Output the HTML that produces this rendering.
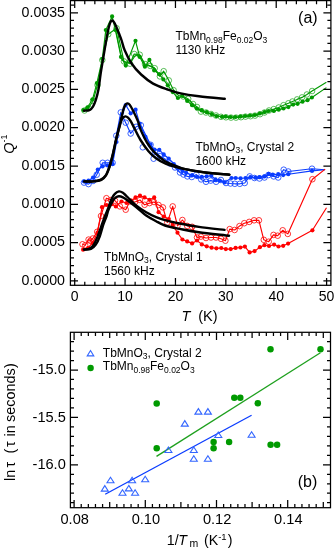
<!DOCTYPE html><html><head><meta charset="utf-8"><style>html,body{margin:0;padding:0;background:#fff;}svg{display:block;will-change:transform}</style></head><body><svg width="334" height="549" viewBox="0 0 334 549"><path d="M115.5 29.0L122.0 60.0L126.5 63.0L131.0 62.0L135.5 55.0L140.0 56.0L145.0 65.0L149.5 66.0L154.5 68.0L159.0 75.0" fill="none" stroke="#009a00" stroke-width="1.1"/><path d="M84.5 110.5L88.5 108.0L93.0 101.0L97.5 85.0L102.3 60.0L108.2 34.3L116.6 28.2L124.0 61.4L130.0 63.7L134.2 54.0L139.7 54.7L145.0 64.0L150.2 65.9L154.7 68.2L159.9 76.4L163.7 71.2L168.8 80.4L173.6 90.2L178.5 95.5L183.3 96.5L188.2 98.9L193.0 104.0L197.0 107.0L200.9 111.6L206.0 112.5L211.0 114.0L216.0 115.5L221.0 116.8L226.0 117.3L231.0 117.6L236.0 117.6L241.0 117.2L245.5 116.6L250.5 116.2L255.0 115.6L260.0 114.2L264.5 112.5L269.0 110.5L273.8 109.1L278.7 107.5L283.5 105.2L288.4 103.3L292.5 101.5L297.1 99.4L302.0 97.4L306.9 94.5L312.1 91.0L326.4 82.3" fill="none" stroke="#009a00" stroke-width="1.15" stroke-linejoin="round"/><g fill="none" stroke="#009a00" stroke-width="0.65"><circle cx="84.5" cy="110.5" r="2.8"/><circle cx="88.5" cy="108.0" r="2.8"/><circle cx="93.0" cy="101.0" r="2.8"/><circle cx="97.5" cy="85.0" r="2.8"/><circle cx="102.3" cy="60.0" r="2.8"/><circle cx="108.2" cy="34.3" r="2.8"/><circle cx="116.6" cy="28.2" r="2.8"/><circle cx="124.0" cy="61.4" r="2.8"/><circle cx="130.0" cy="63.7" r="2.8"/><circle cx="134.2" cy="54.0" r="2.8"/><circle cx="139.7" cy="54.7" r="2.8"/><circle cx="145.0" cy="64.0" r="2.8"/><circle cx="150.2" cy="65.9" r="2.8"/><circle cx="154.7" cy="68.2" r="2.8"/><circle cx="159.9" cy="76.4" r="2.8"/><circle cx="163.7" cy="71.2" r="2.8"/><circle cx="168.8" cy="80.4" r="2.8"/><circle cx="173.6" cy="90.2" r="2.8"/><circle cx="178.5" cy="95.5" r="2.8"/><circle cx="183.3" cy="96.5" r="2.8"/><circle cx="188.2" cy="98.9" r="2.8"/><circle cx="193.0" cy="104.0" r="2.8"/><circle cx="197.0" cy="107.0" r="2.8"/><circle cx="200.9" cy="111.6" r="2.8"/><circle cx="206.0" cy="112.5" r="2.8"/><circle cx="211.0" cy="114.0" r="2.8"/><circle cx="216.0" cy="115.5" r="2.8"/><circle cx="221.0" cy="116.8" r="2.8"/><circle cx="226.0" cy="117.3" r="2.8"/><circle cx="231.0" cy="117.6" r="2.8"/><circle cx="236.0" cy="117.6" r="2.8"/><circle cx="241.0" cy="117.2" r="2.8"/><circle cx="245.5" cy="116.6" r="2.8"/><circle cx="250.5" cy="116.2" r="2.8"/><circle cx="255.0" cy="115.6" r="2.8"/><circle cx="260.0" cy="114.2" r="2.8"/><circle cx="264.5" cy="112.5" r="2.8"/><circle cx="269.0" cy="110.5" r="2.8"/><circle cx="273.8" cy="109.1" r="2.8"/><circle cx="278.7" cy="107.5" r="2.8"/><circle cx="283.5" cy="105.2" r="2.8"/><circle cx="288.4" cy="103.3" r="2.8"/><circle cx="292.5" cy="101.5" r="2.8"/><circle cx="297.1" cy="99.4" r="2.8"/><circle cx="302.0" cy="97.4" r="2.8"/><circle cx="306.9" cy="94.5" r="2.8"/><circle cx="312.1" cy="91.0" r="2.8"/></g><path d="M83.4 110.1L87.5 107.5L92.5 99.3L96.9 83.1L102.3 58.9L105.8 30.1L112.1 16.4L115.4 30.1L121.0 56.9L125.8 65.6L135.5 40.8L139.7 56.9L144.9 66.7L149.4 59.9L154.2 70.4L159.2 74.2L163.4 79.4L167.8 85.3L172.7 92.1L177.9 98.0L182.4 96.0L187.2 100.9L192.1 105.2L197.0 108.7L201.8 110.2L206.7 112.2L211.6 114.1L216.4 116.1L221.9 116.8L225.7 116.6L230.6 117.0L235.4 117.0L240.3 116.6L245.2 116.0L250.0 115.6L254.9 115.0L259.8 113.5L264.6 112.1L268.5 111.0L273.8 111.0L278.7 109.7L283.5 108.5L288.4 107.1L293.2 104.6L297.6 103.8L302.5 101.7L307.5 100.2L311.9 97.5L326.4 87.6" fill="none" stroke="#009a00" stroke-width="1.15" stroke-linejoin="round"/><g fill="#009a00"><circle cx="83.4" cy="110.1" r="2.1"/><circle cx="87.5" cy="107.5" r="2.1"/><circle cx="92.5" cy="99.3" r="2.1"/><circle cx="96.9" cy="83.1" r="2.1"/><circle cx="102.3" cy="58.9" r="2.1"/><circle cx="105.8" cy="30.1" r="2.1"/><circle cx="112.1" cy="16.4" r="2.1"/><circle cx="115.4" cy="30.1" r="2.1"/><circle cx="121.0" cy="56.9" r="2.1"/><circle cx="125.8" cy="65.6" r="2.1"/><circle cx="135.5" cy="40.8" r="2.1"/><circle cx="139.7" cy="56.9" r="2.1"/><circle cx="144.9" cy="66.7" r="2.1"/><circle cx="149.4" cy="59.9" r="2.1"/><circle cx="154.2" cy="70.4" r="2.1"/><circle cx="159.2" cy="74.2" r="2.1"/><circle cx="163.4" cy="79.4" r="2.1"/><circle cx="167.8" cy="85.3" r="2.1"/><circle cx="172.7" cy="92.1" r="2.1"/><circle cx="177.9" cy="98.0" r="2.1"/><circle cx="182.4" cy="96.0" r="2.1"/><circle cx="187.2" cy="100.9" r="2.1"/><circle cx="192.1" cy="105.2" r="2.1"/><circle cx="197.0" cy="108.7" r="2.1"/><circle cx="201.8" cy="110.2" r="2.1"/><circle cx="206.7" cy="112.2" r="2.1"/><circle cx="211.6" cy="114.1" r="2.1"/><circle cx="216.4" cy="116.1" r="2.1"/><circle cx="221.9" cy="116.8" r="2.1"/><circle cx="225.7" cy="116.6" r="2.1"/><circle cx="230.6" cy="117.0" r="2.1"/><circle cx="235.4" cy="117.0" r="2.1"/><circle cx="240.3" cy="116.6" r="2.1"/><circle cx="245.2" cy="116.0" r="2.1"/><circle cx="250.0" cy="115.6" r="2.1"/><circle cx="254.9" cy="115.0" r="2.1"/><circle cx="259.8" cy="113.5" r="2.1"/><circle cx="264.6" cy="112.1" r="2.1"/><circle cx="268.5" cy="111.0" r="2.1"/><circle cx="273.8" cy="111.0" r="2.1"/><circle cx="278.7" cy="109.7" r="2.1"/><circle cx="283.5" cy="108.5" r="2.1"/><circle cx="288.4" cy="107.1" r="2.1"/><circle cx="293.2" cy="104.6" r="2.1"/><circle cx="297.6" cy="103.8" r="2.1"/><circle cx="302.5" cy="101.7" r="2.1"/><circle cx="307.5" cy="100.2" r="2.1"/><circle cx="311.9" cy="97.5" r="2.1"/></g><path d="M84.0 182.6L88.5 184.1L93.0 181.0L96.7 174.7L102.7 162.8L107.6 162.8L112.6 162.8L116.3 135.7L120.8 112.4L125.7 122.7L130.7 133.5L136.1 126.8L140.8 125.2L150.6 144.8L155.0 152.0L160.0 156.0L165.0 159.0L170.0 163.5L175.0 167.5L180.0 172.5L183.5 174.5L187.4 176.4L191.8 177.0L196.4 174.6L201.2 179.4L206.0 181.8L210.7 180.6L216.1 181.8L220.9 180.0L226.0 183.0L230.5 183.5L234.8 183.8L239.8 183.8L244.7 183.0L249.7 176.4L254.5 178.0L259.5 178.5L264.5 177.5L268.5 175.0L273.7 176.4L278.2 177.5L283.7 169.7L288.3 171.5L312.0 168.7L324.8 169.7" fill="none" stroke="#0a3cff" stroke-width="1.15" stroke-linejoin="round"/><g fill="none" stroke="#0a3cff" stroke-width="0.8"><circle cx="84.0" cy="182.6" r="2.8"/><circle cx="88.5" cy="184.1" r="2.8"/><circle cx="93.0" cy="181.0" r="2.8"/><circle cx="96.7" cy="174.7" r="2.8"/><circle cx="102.7" cy="162.8" r="2.8"/><circle cx="107.6" cy="162.8" r="2.8"/><circle cx="112.6" cy="162.8" r="2.8"/><circle cx="116.3" cy="135.7" r="2.8"/><circle cx="120.8" cy="112.4" r="2.8"/><circle cx="125.7" cy="122.7" r="2.8"/><circle cx="130.7" cy="133.5" r="2.8"/><circle cx="136.1" cy="126.8" r="2.8"/><circle cx="140.8" cy="125.2" r="2.8"/><circle cx="150.6" cy="144.8" r="2.8"/><circle cx="155.0" cy="152.0" r="2.8"/><circle cx="160.0" cy="156.0" r="2.8"/><circle cx="165.0" cy="159.0" r="2.8"/><circle cx="170.0" cy="163.5" r="2.8"/><circle cx="175.0" cy="167.5" r="2.8"/><circle cx="180.0" cy="172.5" r="2.8"/><circle cx="183.5" cy="174.5" r="2.8"/><circle cx="187.4" cy="176.4" r="2.8"/><circle cx="191.8" cy="177.0" r="2.8"/><circle cx="196.4" cy="174.6" r="2.8"/><circle cx="201.2" cy="179.4" r="2.8"/><circle cx="206.0" cy="181.8" r="2.8"/><circle cx="210.7" cy="180.6" r="2.8"/><circle cx="216.1" cy="181.8" r="2.8"/><circle cx="220.9" cy="180.0" r="2.8"/><circle cx="226.0" cy="183.0" r="2.8"/><circle cx="230.5" cy="183.5" r="2.8"/><circle cx="234.8" cy="183.8" r="2.8"/><circle cx="239.8" cy="183.8" r="2.8"/><circle cx="244.7" cy="183.0" r="2.8"/><circle cx="249.7" cy="176.4" r="2.8"/><circle cx="254.5" cy="178.0" r="2.8"/><circle cx="259.5" cy="178.5" r="2.8"/><circle cx="264.5" cy="177.5" r="2.8"/><circle cx="268.5" cy="175.0" r="2.8"/><circle cx="273.7" cy="176.4" r="2.8"/><circle cx="278.2" cy="177.5" r="2.8"/><circle cx="283.7" cy="169.7" r="2.8"/><circle cx="288.3" cy="171.5" r="2.8"/><circle cx="312.0" cy="168.7" r="2.8"/></g><path d="M84.0 181.4L88.5 180.5L93.0 177.7L97.8 169.5L102.5 166.4L107.5 165.5L112.6 164.1L116.5 142.0L121.0 119.0L125.7 105.0L130.7 113.3L135.6 109.7L139.6 123.5L145.5 136.9L150.5 144.5L154.5 149.6L159.3 149.9L163.7 154.4L168.7 158.5L173.8 164.0L178.7 168.0L182.5 171.0L186.2 172.8L192.2 175.2L197.0 177.0L201.8 176.8L206.6 176.4L211.3 175.8L215.5 179.4L219.7 180.6L224.5 182.5L231.5 178.0L235.7 178.0L240.6 178.3L245.5 178.0L250.5 177.2L255.4 177.7L259.5 177.2L264.5 176.4L268.6 173.9L272.7 174.7L278.2 174.2L283.2 175.1L288.3 174.2L312.0 170.9L324.8 169.7" fill="none" stroke="#0a3cff" stroke-width="1.15" stroke-linejoin="round"/><g fill="#0a3cff"><circle cx="84.0" cy="181.4" r="2.1"/><circle cx="88.5" cy="180.5" r="2.1"/><circle cx="93.0" cy="177.7" r="2.1"/><circle cx="97.8" cy="169.5" r="2.1"/><circle cx="102.5" cy="166.4" r="2.1"/><circle cx="107.5" cy="165.5" r="2.1"/><circle cx="112.6" cy="164.1" r="2.1"/><circle cx="116.5" cy="142.0" r="2.1"/><circle cx="121.0" cy="119.0" r="2.1"/><circle cx="125.7" cy="105.0" r="2.1"/><circle cx="130.7" cy="113.3" r="2.1"/><circle cx="135.6" cy="109.7" r="2.1"/><circle cx="139.6" cy="123.5" r="2.1"/><circle cx="145.5" cy="136.9" r="2.1"/><circle cx="150.5" cy="144.5" r="2.1"/><circle cx="154.5" cy="149.6" r="2.1"/><circle cx="159.3" cy="149.9" r="2.1"/><circle cx="163.7" cy="154.4" r="2.1"/><circle cx="168.7" cy="158.5" r="2.1"/><circle cx="173.8" cy="164.0" r="2.1"/><circle cx="178.7" cy="168.0" r="2.1"/><circle cx="182.5" cy="171.0" r="2.1"/><circle cx="186.2" cy="172.8" r="2.1"/><circle cx="192.2" cy="175.2" r="2.1"/><circle cx="197.0" cy="177.0" r="2.1"/><circle cx="201.8" cy="176.8" r="2.1"/><circle cx="206.6" cy="176.4" r="2.1"/><circle cx="211.3" cy="175.8" r="2.1"/><circle cx="215.5" cy="179.4" r="2.1"/><circle cx="219.7" cy="180.6" r="2.1"/><circle cx="224.5" cy="182.5" r="2.1"/><circle cx="231.5" cy="178.0" r="2.1"/><circle cx="235.7" cy="178.0" r="2.1"/><circle cx="240.6" cy="178.3" r="2.1"/><circle cx="245.5" cy="178.0" r="2.1"/><circle cx="250.5" cy="177.2" r="2.1"/><circle cx="255.4" cy="177.7" r="2.1"/><circle cx="259.5" cy="177.2" r="2.1"/><circle cx="264.5" cy="176.4" r="2.1"/><circle cx="268.6" cy="173.9" r="2.1"/><circle cx="272.7" cy="174.7" r="2.1"/><circle cx="278.2" cy="174.2" r="2.1"/><circle cx="283.2" cy="175.1" r="2.1"/><circle cx="288.3" cy="174.2" r="2.1"/><circle cx="312.0" cy="170.9" r="2.1"/></g><g fill="none" stroke="#0a3cff" stroke-width="0.8"><circle cx="142.8" cy="147.3" r="2.8"/><circle cx="153.6" cy="158.7" r="2.8"/></g><path d="M82.5 244.3L85.2 245.3L88.6 239.6L90.4 240.8L92.8 238.5L97.2 231.8L101.0 216.0L106.4 198.2L111.0 200.0L115.0 200.7L119.9 206.4L125.7 209.7L129.8 201.5L135.0 202.0L140.0 200.0L144.6 204.8L149.5 203.1L154.0 202.0L158.5 205.0L162.9 207.4L167.3 222.5L172.7 206.4L177.5 225.9L182.4 220.0L187.2 225.9L192.1 226.8L197.0 237.5L200.9 236.6L206.0 238.0L211.0 237.5L216.0 237.5L221.0 238.8L225.4 240.7L229.7 229.1L234.6 230.0L239.5 226.1L244.3 223.2L249.2 221.9L254.1 220.3L258.9 220.3L263.8 239.8L268.7 241.7L273.5 234.9L277.7 235.7L282.7 230.3L287.8 233.9L312.4 179.2L325.2 169.1" fill="none" stroke="#ff0000" stroke-width="1.15" stroke-linejoin="round"/><g fill="none" stroke="#ff0000" stroke-width="0.8"><circle cx="82.5" cy="244.3" r="2.8"/><circle cx="85.2" cy="245.3" r="2.8"/><circle cx="88.6" cy="239.6" r="2.8"/><circle cx="90.4" cy="240.8" r="2.8"/><circle cx="92.8" cy="238.5" r="2.8"/><circle cx="97.2" cy="231.8" r="2.8"/><circle cx="101.0" cy="216.0" r="2.8"/><circle cx="106.4" cy="198.2" r="2.8"/><circle cx="111.0" cy="200.0" r="2.8"/><circle cx="115.0" cy="200.7" r="2.8"/><circle cx="119.9" cy="206.4" r="2.8"/><circle cx="125.7" cy="209.7" r="2.8"/><circle cx="129.8" cy="201.5" r="2.8"/><circle cx="135.0" cy="202.0" r="2.8"/><circle cx="140.0" cy="200.0" r="2.8"/><circle cx="144.6" cy="204.8" r="2.8"/><circle cx="149.5" cy="203.1" r="2.8"/><circle cx="154.0" cy="202.0" r="2.8"/><circle cx="158.5" cy="205.0" r="2.8"/><circle cx="162.9" cy="207.4" r="2.8"/><circle cx="167.3" cy="222.5" r="2.8"/><circle cx="172.7" cy="206.4" r="2.8"/><circle cx="177.5" cy="225.9" r="2.8"/><circle cx="182.4" cy="220.0" r="2.8"/><circle cx="187.2" cy="225.9" r="2.8"/><circle cx="192.1" cy="226.8" r="2.8"/><circle cx="197.0" cy="237.5" r="2.8"/><circle cx="200.9" cy="236.6" r="2.8"/><circle cx="206.0" cy="238.0" r="2.8"/><circle cx="211.0" cy="237.5" r="2.8"/><circle cx="216.0" cy="237.5" r="2.8"/><circle cx="221.0" cy="238.8" r="2.8"/><circle cx="225.4" cy="240.7" r="2.8"/><circle cx="229.7" cy="229.1" r="2.8"/><circle cx="234.6" cy="230.0" r="2.8"/><circle cx="239.5" cy="226.1" r="2.8"/><circle cx="244.3" cy="223.2" r="2.8"/><circle cx="249.2" cy="221.9" r="2.8"/><circle cx="254.1" cy="220.3" r="2.8"/><circle cx="258.9" cy="220.3" r="2.8"/><circle cx="263.8" cy="239.8" r="2.8"/><circle cx="268.7" cy="241.7" r="2.8"/><circle cx="273.5" cy="234.9" r="2.8"/><circle cx="277.7" cy="235.7" r="2.8"/><circle cx="282.7" cy="230.3" r="2.8"/><circle cx="287.8" cy="233.9" r="2.8"/><circle cx="312.4" cy="179.2" r="2.8"/></g><path d="M83.1 249.7L88.0 248.0L92.5 243.0L97.5 232.7L102.0 207.2L106.5 205.0L111.7 204.2L115.8 206.4L121.5 201.5L126.5 203.0L131.4 200.7L135.5 197.4L140.0 195.7L144.6 197.4L149.5 199.8L154.2 197.4L158.6 212.2L163.7 216.5L168.8 219.1L172.7 224.9L177.5 232.7L182.4 239.5L187.2 241.4L192.1 243.4L197.0 240.5L201.8 244.4L206.7 246.3L211.6 247.7L216.4 248.3L221.3 248.0L225.8 249.1L230.7 249.1L235.6 247.9L240.4 247.5L244.9 246.6L249.6 252.4L254.6 251.1L259.9 247.2L264.4 245.2L269.0 246.0L274.1 244.6L278.5 246.5L283.2 245.8L288.1 243.6L312.4 230.3L326.5 207.8" fill="none" stroke="#ff0000" stroke-width="1.15" stroke-linejoin="round"/><g fill="#ff0000"><circle cx="83.1" cy="249.7" r="2.1"/><circle cx="88.0" cy="248.0" r="2.1"/><circle cx="92.5" cy="243.0" r="2.1"/><circle cx="97.5" cy="232.7" r="2.1"/><circle cx="102.0" cy="207.2" r="2.1"/><circle cx="106.5" cy="205.0" r="2.1"/><circle cx="111.7" cy="204.2" r="2.1"/><circle cx="115.8" cy="206.4" r="2.1"/><circle cx="121.5" cy="201.5" r="2.1"/><circle cx="126.5" cy="203.0" r="2.1"/><circle cx="131.4" cy="200.7" r="2.1"/><circle cx="135.5" cy="197.4" r="2.1"/><circle cx="140.0" cy="195.7" r="2.1"/><circle cx="144.6" cy="197.4" r="2.1"/><circle cx="149.5" cy="199.8" r="2.1"/><circle cx="154.2" cy="197.4" r="2.1"/><circle cx="158.6" cy="212.2" r="2.1"/><circle cx="163.7" cy="216.5" r="2.1"/><circle cx="168.8" cy="219.1" r="2.1"/><circle cx="172.7" cy="224.9" r="2.1"/><circle cx="177.5" cy="232.7" r="2.1"/><circle cx="182.4" cy="239.5" r="2.1"/><circle cx="187.2" cy="241.4" r="2.1"/><circle cx="192.1" cy="243.4" r="2.1"/><circle cx="197.0" cy="240.5" r="2.1"/><circle cx="201.8" cy="244.4" r="2.1"/><circle cx="206.7" cy="246.3" r="2.1"/><circle cx="211.6" cy="247.7" r="2.1"/><circle cx="216.4" cy="248.3" r="2.1"/><circle cx="221.3" cy="248.0" r="2.1"/><circle cx="225.8" cy="249.1" r="2.1"/><circle cx="230.7" cy="249.1" r="2.1"/><circle cx="235.6" cy="247.9" r="2.1"/><circle cx="240.4" cy="247.5" r="2.1"/><circle cx="244.9" cy="246.6" r="2.1"/><circle cx="249.6" cy="252.4" r="2.1"/><circle cx="254.6" cy="251.1" r="2.1"/><circle cx="259.9" cy="247.2" r="2.1"/><circle cx="264.4" cy="245.2" r="2.1"/><circle cx="269.0" cy="246.0" r="2.1"/><circle cx="274.1" cy="244.6" r="2.1"/><circle cx="278.5" cy="246.5" r="2.1"/><circle cx="283.2" cy="245.8" r="2.1"/><circle cx="288.1" cy="243.6" r="2.1"/><circle cx="312.4" cy="230.3" r="2.1"/></g><path d="M84.0 110.7C84.9 110.6 87.9 110.8 89.4 110.1C90.9 109.4 91.9 108.4 93.0 106.6C94.1 104.8 95.1 102.2 96.0 99.4C96.9 96.6 97.6 94.0 98.4 89.8C99.2 85.6 99.8 79.5 100.6 74.0C101.4 68.5 102.5 62.7 103.4 57.0C104.4 51.3 105.5 44.2 106.3 40.0C107.0 35.8 107.4 34.0 107.9 31.5C108.4 29.1 108.8 26.9 109.3 25.3C109.8 23.7 110.1 22.7 110.6 21.9C111.0 21.1 111.5 20.6 112.0 20.5C112.5 20.4 112.9 20.7 113.5 21.5C114.1 22.3 114.7 23.2 115.6 25.2C116.5 27.2 118.0 30.9 119.0 33.5C120.0 36.1 120.9 38.2 121.8 41.0C122.7 43.8 123.0 46.2 124.6 50.0C126.2 53.8 128.8 59.4 131.6 63.5C134.3 67.6 137.5 71.2 141.1 74.5C144.7 77.8 148.7 81.1 153.1 83.6C157.5 86.1 163.1 87.9 167.5 89.5C171.9 91.1 174.3 92.0 179.5 93.1C184.7 94.2 191.3 95.3 198.9 96.3C206.5 97.2 220.5 98.4 224.8 98.8" fill="none" stroke="#000" stroke-width="2.4" stroke-linecap="round" stroke-linejoin="round"/><path d="M84.0 181.4C85.5 181.4 90.3 181.7 93.0 181.4C95.7 181.2 98.3 180.9 100.4 179.9C102.5 178.9 104.2 177.6 105.7 175.4C107.2 173.2 108.2 169.9 109.4 166.5C110.6 163.1 111.5 159.4 112.6 155.0C113.7 150.6 114.9 144.3 115.9 140.0C116.9 135.7 117.9 132.1 118.7 129.0C119.5 125.9 120.0 124.0 120.6 121.5C121.2 119.0 121.8 116.2 122.3 114.0C122.8 111.8 123.2 110.0 123.7 108.5C124.2 107.0 124.7 105.8 125.3 105.0C125.9 104.2 126.6 103.5 127.3 103.4C128.0 103.3 128.7 103.4 129.6 104.6C130.5 105.8 131.6 107.7 133.0 110.5C134.4 113.3 136.7 118.1 138.0 121.4C139.3 124.8 139.5 127.1 141.0 130.6C142.5 134.1 144.8 138.9 147.0 142.5C149.2 146.1 151.2 149.0 154.2 152.1C157.2 155.2 161.5 159.0 165.0 161.2C168.5 163.4 171.7 164.2 175.0 165.5C178.3 166.8 180.0 168.0 185.0 169.2C190.0 170.3 197.6 171.5 205.0 172.4C212.4 173.3 225.3 174.2 229.4 174.6" fill="none" stroke="#000" stroke-width="2.4" stroke-linecap="round" stroke-linejoin="round"/><path d="M85.0 181.4C86.5 181.4 91.3 181.7 94.0 181.4C96.7 181.2 99.4 180.9 101.4 179.9C103.4 178.9 104.6 177.6 106.0 175.4C107.4 173.2 108.6 169.9 109.7 166.5C110.8 163.1 111.7 159.4 112.8 155.0C113.9 150.6 115.1 144.3 116.1 140.0C117.1 135.7 118.1 132.0 118.9 129.0C119.7 126.0 120.2 123.8 120.8 122.0C121.4 120.2 121.8 119.2 122.5 118.3C123.2 117.4 124.4 116.5 125.3 116.4C126.2 116.3 127.1 116.8 128.0 117.6C128.9 118.4 129.6 119.4 130.7 121.2C131.8 123.0 132.9 125.4 134.5 128.5C136.1 131.6 138.2 136.3 140.5 140.0C142.8 143.7 145.7 147.8 148.3 150.9C150.9 154.0 153.0 156.1 156.0 158.3C159.0 160.5 162.1 162.3 166.1 164.0C170.1 165.7 173.5 166.8 180.0 168.2C186.5 169.6 196.8 171.4 205.0 172.5C213.2 173.6 225.3 174.3 229.4 174.7" fill="none" stroke="#000" stroke-width="2.4" stroke-linecap="round" stroke-linejoin="round"/><path d="M83.8 249.5C84.8 249.4 87.9 249.5 89.6 248.7C91.3 247.9 92.5 246.6 93.8 244.6C95.1 242.6 96.3 239.7 97.6 236.6C98.9 233.5 100.1 229.3 101.4 225.8C102.7 222.3 104.1 218.4 105.2 215.5C106.3 212.6 107.1 211.2 108.1 208.5C109.1 205.8 110.3 201.7 111.4 199.3C112.5 196.9 113.3 195.4 114.6 194.1C115.8 192.8 117.5 191.6 118.9 191.4C120.3 191.2 121.6 191.9 122.9 192.7C124.2 193.5 124.2 194.0 126.5 196.2C128.8 198.3 133.1 202.9 136.4 205.6C139.7 208.3 142.9 210.3 146.2 212.2C149.5 214.1 153.0 215.8 156.1 217.1C159.2 218.4 161.1 219.0 165.0 220.1C168.9 221.2 173.8 222.4 179.5 223.5C185.2 224.6 191.4 225.8 198.9 226.9C206.4 228.0 220.3 229.4 224.6 229.9" fill="none" stroke="#000" stroke-width="2.4" stroke-linecap="round" stroke-linejoin="round"/><path d="M84.5 249.6C85.6 249.5 89.1 249.7 91.0 248.9C92.9 248.1 94.3 246.7 95.8 244.6C97.3 242.5 98.6 239.6 99.8 236.3C101.0 233.0 102.1 228.4 103.2 225.0C104.3 221.6 105.7 218.6 106.6 216.0C107.5 213.4 107.5 212.1 108.6 209.5C109.7 206.9 111.9 202.3 113.1 200.3C114.3 198.3 114.7 198.3 115.7 197.6C116.7 196.9 117.7 196.4 118.9 196.3C120.1 196.2 121.6 196.7 122.9 197.3C124.2 197.9 124.2 198.0 126.5 199.7C128.8 201.3 133.1 204.6 136.4 207.2C139.7 209.8 142.9 213.2 146.2 215.5C149.5 217.8 153.0 219.5 156.1 221.2C159.2 222.9 161.1 224.2 165.0 225.5C168.9 226.8 173.8 227.8 179.5 228.9C185.2 230.0 190.6 231.2 198.9 232.3C207.2 233.4 224.1 235.1 229.1 235.7" fill="none" stroke="#000" stroke-width="2.4" stroke-linecap="round" stroke-linejoin="round"/><path d="M105.2 494.3L251.6 415.3" stroke="#0a3cff" stroke-width="1.3" fill="none"/><path d="M156.5 456.4L320.4 352.7" stroke="#1ea01e" stroke-width="1.35" fill="none"/><g fill="none" stroke="#3366ff" stroke-width="1.1" stroke-linejoin="miter"><path d="M104.8 485.6L108.3 491.1H101.3Z"/><path d="M110.5 477.3L114.0 482.8H107.0Z"/><path d="M122.5 489.8L126.0 495.3H119.0Z"/><path d="M128.8 485.4L132.3 490.9H125.3Z"/><path d="M132.1 477.3L135.6 482.8H128.6Z"/><path d="M135.1 489.8L138.6 495.3H131.6Z"/><path d="M145.2 476.2L148.7 481.7H141.7Z"/><path d="M168.4 447.0L171.9 452.5H164.9Z"/><path d="M184.8 420.6L188.3 426.1H181.3Z"/><path d="M193.8 447.0L197.3 452.5H190.3Z"/><path d="M193.8 455.8L197.3 461.3H190.3Z"/><path d="M198.4 408.6L201.9 414.1H194.9Z"/><path d="M207.9 408.6L211.4 414.1H204.4Z"/><path d="M207.9 455.8L211.4 461.3H204.4Z"/><path d="M218.3 432.0L221.8 437.5H214.8Z"/><path d="M251.6 431.7L255.1 437.2H248.1Z"/></g><g fill="#009a00"><circle cx="156.7" cy="403.5" r="3.25"/><circle cx="156.7" cy="448.2" r="3.25"/><circle cx="213.6" cy="442.1" r="3.25"/><circle cx="213.6" cy="448.3" r="3.25"/><circle cx="229.1" cy="442.1" r="3.25"/><circle cx="234.3" cy="397.8" r="3.25"/><circle cx="240.3" cy="397.8" r="3.25"/><circle cx="257.8" cy="403.3" r="3.25"/><circle cx="270.5" cy="349.2" r="3.25"/><circle cx="270.6" cy="444.8" r="3.25"/><circle cx="277.1" cy="444.8" r="3.25"/><circle cx="320.5" cy="349.2" r="3.25"/></g><rect x="70.4" y="0.6" width="260.5" height="284.7" fill="none" stroke="#000" stroke-width="1.25"/><rect x="70.4" y="332.3" width="260.1" height="175.4" fill="none" stroke="#000" stroke-width="1.25"/><path d="M74.70 285.5v-7.5M74.70 0.5v7.5M84.78 285.5v-3.8M84.78 0.5v3.8M94.85 285.5v-3.8M94.85 0.5v3.8M104.93 285.5v-3.8M104.93 0.5v3.8M115.00 285.5v-3.8M115.00 0.5v3.8M125.08 285.5v-7.5M125.08 0.5v7.5M135.16 285.5v-3.8M135.16 0.5v3.8M145.23 285.5v-3.8M145.23 0.5v3.8M155.31 285.5v-3.8M155.31 0.5v3.8M165.38 285.5v-3.8M165.38 0.5v3.8M175.46 285.5v-7.5M175.46 0.5v7.5M185.54 285.5v-3.8M185.54 0.5v3.8M195.61 285.5v-3.8M195.61 0.5v3.8M205.69 285.5v-3.8M205.69 0.5v3.8M215.76 285.5v-3.8M215.76 0.5v3.8M225.84 285.5v-7.5M225.84 0.5v7.5M235.92 285.5v-3.8M235.92 0.5v3.8M245.99 285.5v-3.8M245.99 0.5v3.8M256.07 285.5v-3.8M256.07 0.5v3.8M266.14 285.5v-3.8M266.14 0.5v3.8M276.22 285.5v-7.5M276.22 0.5v7.5M286.30 285.5v-3.8M286.30 0.5v3.8M296.37 285.5v-3.8M296.37 0.5v3.8M306.45 285.5v-3.8M306.45 0.5v3.8M316.52 285.5v-3.8M316.52 0.5v3.8M326.60 285.5v-7.5M326.60 0.5v7.5M70.5 280.90h7.5M330.9 280.90h-7.5M70.5 273.24h3.5M330.9 273.24h-3.5M70.5 265.58h3.5M330.9 265.58h-3.5M70.5 257.92h3.5M330.9 257.92h-3.5M70.5 250.26h3.5M330.9 250.26h-3.5M70.5 242.60h7.5M330.9 242.60h-7.5M70.5 234.94h3.5M330.9 234.94h-3.5M70.5 227.28h3.5M330.9 227.28h-3.5M70.5 219.62h3.5M330.9 219.62h-3.5M70.5 211.96h3.5M330.9 211.96h-3.5M70.5 204.30h7.5M330.9 204.30h-7.5M70.5 196.64h3.5M330.9 196.64h-3.5M70.5 188.98h3.5M330.9 188.98h-3.5M70.5 181.32h3.5M330.9 181.32h-3.5M70.5 173.66h3.5M330.9 173.66h-3.5M70.5 166.00h7.5M330.9 166.00h-7.5M70.5 158.34h3.5M330.9 158.34h-3.5M70.5 150.68h3.5M330.9 150.68h-3.5M70.5 143.02h3.5M330.9 143.02h-3.5M70.5 135.36h3.5M330.9 135.36h-3.5M70.5 127.70h7.5M330.9 127.70h-7.5M70.5 120.04h3.5M330.9 120.04h-3.5M70.5 112.38h3.5M330.9 112.38h-3.5M70.5 104.72h3.5M330.9 104.72h-3.5M70.5 97.06h3.5M330.9 97.06h-3.5M70.5 89.40h7.5M330.9 89.40h-7.5M70.5 81.74h3.5M330.9 81.74h-3.5M70.5 74.08h3.5M330.9 74.08h-3.5M70.5 66.42h3.5M330.9 66.42h-3.5M70.5 58.76h3.5M330.9 58.76h-3.5M70.5 51.10h7.5M330.9 51.10h-7.5M70.5 43.44h3.5M330.9 43.44h-3.5M70.5 35.78h3.5M330.9 35.78h-3.5M70.5 28.12h3.5M330.9 28.12h-3.5M70.5 20.46h3.5M330.9 20.46h-3.5M70.5 12.80h7.5M330.9 12.80h-7.5M70.5 5.14h3.5M330.9 5.14h-3.5M74.10 507.5v-7.5M74.10 332.5v7.5M81.22 507.5v-3.5M81.22 332.5v3.5M88.34 507.5v-3.5M88.34 332.5v3.5M95.46 507.5v-3.5M95.46 332.5v3.5M102.58 507.5v-3.5M102.58 332.5v3.5M109.70 507.5v-5.5M109.70 332.5v5.5M116.82 507.5v-3.5M116.82 332.5v3.5M123.94 507.5v-3.5M123.94 332.5v3.5M131.06 507.5v-3.5M131.06 332.5v3.5M138.18 507.5v-3.5M138.18 332.5v3.5M145.30 507.5v-7.5M145.30 332.5v7.5M152.42 507.5v-3.5M152.42 332.5v3.5M159.54 507.5v-3.5M159.54 332.5v3.5M166.66 507.5v-3.5M166.66 332.5v3.5M173.78 507.5v-3.5M173.78 332.5v3.5M180.90 507.5v-5.5M180.90 332.5v5.5M188.02 507.5v-3.5M188.02 332.5v3.5M195.14 507.5v-3.5M195.14 332.5v3.5M202.26 507.5v-3.5M202.26 332.5v3.5M209.38 507.5v-3.5M209.38 332.5v3.5M216.50 507.5v-7.5M216.50 332.5v7.5M223.62 507.5v-3.5M223.62 332.5v3.5M230.74 507.5v-3.5M230.74 332.5v3.5M237.86 507.5v-3.5M237.86 332.5v3.5M244.98 507.5v-3.5M244.98 332.5v3.5M252.10 507.5v-5.5M252.10 332.5v5.5M259.22 507.5v-3.5M259.22 332.5v3.5M266.34 507.5v-3.5M266.34 332.5v3.5M273.46 507.5v-3.5M273.46 332.5v3.5M280.58 507.5v-3.5M280.58 332.5v3.5M287.70 507.5v-7.5M287.70 332.5v7.5M294.82 507.5v-3.5M294.82 332.5v3.5M301.94 507.5v-3.5M301.94 332.5v3.5M309.06 507.5v-3.5M309.06 332.5v3.5M316.18 507.5v-3.5M316.18 332.5v3.5M323.30 507.5v-5.5M323.30 332.5v5.5M70.5 341.56h3.5M330.5 341.56h-3.5M70.5 351.04h3.5M330.5 351.04h-3.5M70.5 360.52h3.5M330.5 360.52h-3.5M70.5 370.00h7.5M330.5 370.00h-7.5M70.5 379.48h3.5M330.5 379.48h-3.5M70.5 388.96h3.5M330.5 388.96h-3.5M70.5 398.44h3.5M330.5 398.44h-3.5M70.5 407.92h3.5M330.5 407.92h-3.5M70.5 417.40h7.5M330.5 417.40h-7.5M70.5 426.88h3.5M330.5 426.88h-3.5M70.5 436.36h3.5M330.5 436.36h-3.5M70.5 445.84h3.5M330.5 445.84h-3.5M70.5 455.32h3.5M330.5 455.32h-3.5M70.5 464.80h7.5M330.5 464.80h-7.5M70.5 474.28h3.5M330.5 474.28h-3.5M70.5 483.76h3.5M330.5 483.76h-3.5M70.5 493.24h3.5M330.5 493.24h-3.5M70.5 502.72h3.5M330.5 502.72h-3.5" stroke="#000" stroke-width="1.25" fill="none"/><g font-family="Liberation Sans, sans-serif" font-size="14" fill="#000"><text x="65.0" y="284.60" text-anchor="end" font-size="14.2">0.0000</text><text x="65.0" y="246.30" text-anchor="end" font-size="14.2">0.0005</text><text x="65.0" y="208.00" text-anchor="end" font-size="14.2">0.0010</text><text x="65.0" y="169.70" text-anchor="end" font-size="14.2">0.0015</text><text x="65.0" y="131.40" text-anchor="end" font-size="14.2">0.0020</text><text x="65.0" y="93.10" text-anchor="end" font-size="14.2">0.0025</text><text x="65.0" y="54.80" text-anchor="end" font-size="14.2">0.0030</text><text x="65.0" y="16.50" text-anchor="end" font-size="14.2">0.0035</text><text x="74.70" y="301.4" text-anchor="middle">0</text><text x="125.08" y="301.4" text-anchor="middle">10</text><text x="175.46" y="301.4" text-anchor="middle">20</text><text x="225.84" y="301.4" text-anchor="middle">30</text><text x="276.22" y="301.4" text-anchor="middle">40</text><text x="326.60" y="301.4" text-anchor="middle">50</text><text x="65.8" y="374.30" text-anchor="end" font-size="14.6">-15.0</text><text x="65.8" y="421.70" text-anchor="end" font-size="14.6">-15.5</text><text x="65.8" y="469.10" text-anchor="end" font-size="14.6">-16.0</text><text x="74.70" y="523.7" text-anchor="middle" font-size="14.6">0.08</text><text x="145.90" y="523.7" text-anchor="middle" font-size="14.6">0.10</text><text x="217.10" y="523.7" text-anchor="middle" font-size="14.6">0.12</text><text x="288.30" y="523.7" text-anchor="middle" font-size="14.6">0.14</text></g><text font-family="Liberation Sans, sans-serif" font-size="14.5" y="321.3"><tspan x="181.6" font-style="italic">T</tspan><tspan x="198.2">(K)</tspan></text><text font-family="Liberation Sans, sans-serif" font-size="14.2" y="545.2"><tspan x="166.8">1/</tspan><tspan x="178.2" font-style="italic">T</tspan><tspan x="189.6" font-size="10.5" dy="2">m</tspan><tspan x="204" dy="-2">(K</tspan><tspan font-size="9.5" dy="-5.5">-1</tspan><tspan x="227.8" dy="5.5">)</tspan></text><text font-family="Liberation Sans, sans-serif" font-size="14.5" transform="translate(14.3,144) rotate(-90)" text-anchor="middle"><tspan font-style="italic">Q</tspan><tspan font-size="9" dy="-7.5">-1</tspan></text><text font-family="Liberation Sans, sans-serif" font-size="14.4" transform="translate(15,480.5) rotate(-90)"><tspan x="-0.5">ln</tspan><tspan x="13">τ</tspan><tspan x="27">(</tspan><tspan x="33.5">τ</tspan><tspan x="44">in</tspan><tspan x="58.6">seconds</tspan><tspan x="112.4">)</tspan></text><text font-family="Liberation Sans, sans-serif" font-size="16" x="298.1" y="22.5">(a)</text><text font-family="Liberation Sans, sans-serif" font-size="16" x="297.7" y="487.2">(b)</text><text font-family="Liberation Sans, sans-serif" font-size="12" x="175.4" y="40.3">TbMn<tspan font-size="8.5" dy="2.2">0.98</tspan><tspan dy="-2.2">Fe</tspan><tspan font-size="8.5" dy="2.2">0.02</tspan><tspan dy="-2.2">O</tspan><tspan font-size="8.5" dy="2.2">3</tspan></text><text font-family="Liberation Sans, sans-serif" font-size="12" x="175.4" y="54.3">1130 kHz</text><text font-family="Liberation Sans, sans-serif" font-size="12" x="195.4" y="150.8">TbMnO<tspan font-size="8.5" dy="2.2">3</tspan><tspan dy="-2.2">, Crystal 2</tspan></text><text font-family="Liberation Sans, sans-serif" font-size="12" x="195.4" y="164.6">1600 kHz</text><text font-family="Liberation Sans, sans-serif" font-size="12" x="104" y="260.8">TbMnO<tspan font-size="8.5" dy="2.2">3</tspan><tspan dy="-2.2">, Crystal 1</tspan></text><text font-family="Liberation Sans, sans-serif" font-size="12" x="104" y="274.6">1560 kHz</text><text font-family="Liberation Sans, sans-serif" font-size="12" x="102.8" y="357.2">TbMnO<tspan font-size="8.5" dy="2.2">3</tspan><tspan dy="-2.2">, Crystal 2</tspan></text><text font-family="Liberation Sans, sans-serif" font-size="12" x="102.8" y="370.3">TbMn<tspan font-size="8.5" dy="2.2">0.98</tspan><tspan dy="-2.2">Fe</tspan><tspan font-size="8.5" dy="2.2">0.02</tspan><tspan dy="-2.2">O</tspan><tspan font-size="8.5" dy="2.2">3</tspan></text><path d="M90.5 350.5L93.8 355.9H87.2Z" fill="none" stroke="#3366ff" stroke-width="1.1"/><circle cx="90.6" cy="368" r="3.2" fill="#009a00"/></svg></body></html>
